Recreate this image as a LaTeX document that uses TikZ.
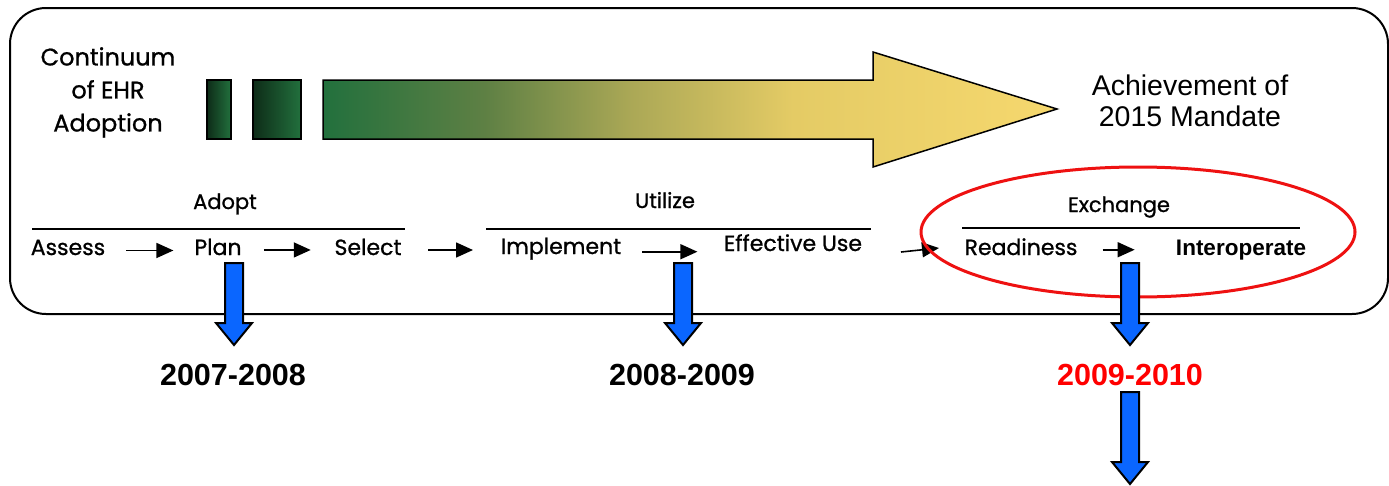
\documentclass[tikz,border=0pt]{standalone}
\usepackage{fontspec}
\setmainfont{Liberation Sans}
\newfontfamily\gothic[FakeBold=0.9]{Poppins}
\usetikzlibrary{arrows.meta,shapes.geometric}

\definecolor{gdark}{HTML}{0E2C18}
\definecolor{g0}{HTML}{22703D}
\definecolor{g1}{HTML}{5E8044}
\definecolor{g2}{HTML}{ABA856}
\definecolor{g3}{HTML}{E4CB65}
\definecolor{g4}{HTML}{F6D86E}
\definecolor{yearblue}{HTML}{0A66FF}
\definecolor{ringred}{HTML}{EE1111}
\definecolor{yearred}{HTML}{FF0000}

\pgfdeclarehorizontalshading{ehrflow}{100bp}{color(0bp)=(g0); color(25bp)=(g0); color(36bp)=(g1); color(46bp)=(g2); color(57bp)=(g3); color(75bp)=(g4); color(100bp)=(g4)}

\tikzset{
  stage/.style={font=\gothic\fontsize{22}{26}\selectfont, inner sep=0pt, anchor=base},
  phase/.style={font=\gothic\fontsize{21}{25}\selectfont, inner sep=0pt, anchor=base},
  title/.style={font=\gothic\fontsize{24}{33}\selectfont, inner sep=0pt, align=center, anchor=north},
  goal/.style={font=\fontsize{28.5}{31}\selectfont, inner sep=0pt, align=center, anchor=north},
  year/.style={font=\bfseries\fontsize{30.5}{34}\selectfont, inner sep=0pt, anchor=base},
  rule/.style={line width=1.5pt},
  flow/.style={line width=1.6pt, -{Triangle[length=17pt,width=15pt]}},
  bar/.style={draw=black, line width=1.2pt, left color=gdark, right color=g0},
  pics/yeararrow/.style={code={
    \draw[line width=2pt, fill=yearblue, line join=miter]
      (-9,0) -- (9,0) -- (9,#1-22) -- (18,#1-22) -- (0,#1) -- (-18,#1-22) -- (-9,#1-22) -- cycle;
  }}
}

\begin{document}
\begin{tikzpicture}[x=1pt,y=-1pt]
\useasboundingbox (0,0) rectangle (1389,485);

% outer frame
\draw[line width=2pt, rounded corners=36pt] (10,8) rectangle (1388,314);

% continuum bars and the shaded arrow
\node[title] (cont) at (108,47) {Continuum\\of EHR\\Adoption};
\shadedraw[bar] (207,80) rectangle (231,139);
\shadedraw[bar] (253,80) rectangle (301,139);
\shadedraw[shading=ehrflow, draw=black, line width=1.5pt, line join=miter]
  (323,80) -- (873,80) -- (873,52) -- (1057,109) -- (873,167) -- (873,139) -- (323,139) -- cycle;
\node[goal] (goal) at (1190,75) {Achievement of\\2015 Mandate};

% phase headings and rules
\node[phase] (adopt) at (225,209) {Adopt};
\node[phase] (utilize) at (665,208) {Utilize};
\node[phase] (exchange) at (1119,212) {Exchange};
\draw[rule] (32,229) -- (405,229);
\draw[rule] (486,229) -- (871,229);
\draw[rule] (962,228) -- (1300,228);

% stages
\node[stage] (assess) at (68,255) {Assess};
\node[stage] (plan) at (218,255) {Plan};
\node[stage] (select) at (368,255) {Select};
\node[stage] (impl) at (561,254) {Implement};
\node[stage] (eff) at (793,251) {Effective Use};
\node[stage] (ready) at (1021,255) {Readiness};
\node[font=\bfseries\fontsize{22.5}{26}\selectfont, inner sep=0pt, anchor=base] (inter) at (1241,255) {Interoperate};

\coordinate (selout) at (428,250);
\coordinate (implin) at (473,250);
\draw[flow] ([yshift=-3pt]assess.east) ++(21,0) -- ++(47,0);
\draw[flow] ([yshift=-3pt]plan.east) ++(22,0) -- ++(47,0);
\draw[flow] (selout) -- (implin);
\draw[flow] ([yshift=-3pt]impl.east) ++(21,0) -- ++(55,0);
\draw[flow] (901,252) -- (939,248);
\draw[flow] ([yshift=-3pt]ready.east) ++(25,0) -- ++(32,0);

% highlight ring
\node[draw=ringred, line width=3pt, ellipse, minimum width=434pt, minimum height=130pt, inner sep=0pt] (ring) at (1138,232) {};

% years
\node[year] (y1) at (233,385) {2007-2008};
\node[year] (y2) at (682,385) {2008-2009};
\node[year, text=yearred] (y3) at (1130,385) {2009-2010};
\pic at (234,263) {yeararrow=82};
\pic at (683,263) {yeararrow=82};
\pic at (1130,263) {yeararrow=82};
\pic at (1130,392) {yeararrow=92};
\end{tikzpicture}
\end{document}
